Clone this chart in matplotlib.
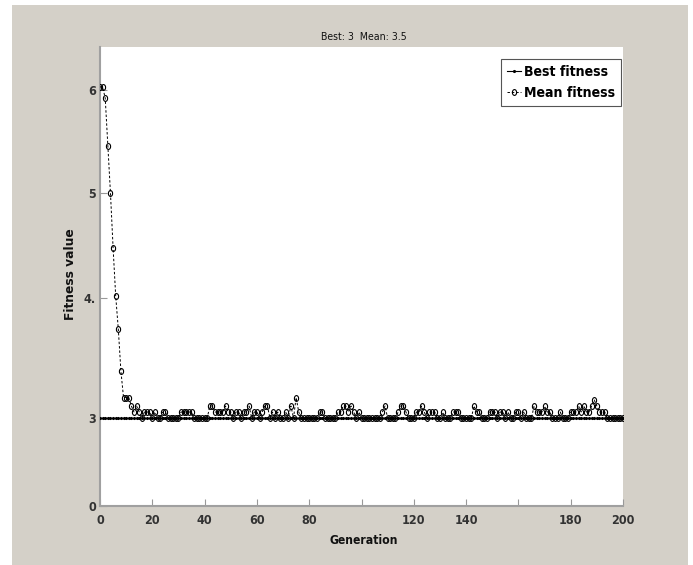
import numpy as np
import matplotlib
matplotlib.use("Agg")
import matplotlib.pyplot as plt
from matplotlib.patches import Rectangle
from matplotlib.markers import MarkerStyle
from matplotlib.transforms import Affine2D
from matplotlib import font_manager as fm

# ---------------- data ----------------
generations = list(range(0, 201))
best_fitness = [3.0] * 201
mean_fitness = (
    [6.03, 6.03, 5.92, 5.46, 5.0, 4.48, 4.02, 3.74, 3.39, 3.17,
     3.17, 3.17, 3.1, 3.05, 3.1, 3.05, 3.0, 3.05, 3.05, 3.05,
     3.0, 3.05, 3.0, 3.0, 3.05, 3.05, 3.0, 3.0, 3.0, 3.0,
     3.0, 3.05, 3.05, 3.05, 3.05, 3.05, 3.0, 3.0, 3.0, 3.0,
     3.0, 3.0, 3.1, 3.1, 3.05, 3.05, 3.05, 3.05, 3.1, 3.05,
     3.05, 3.0, 3.05, 3.05, 3.0, 3.05, 3.05, 3.1, 3.0, 3.05,
     3.05, 3.0, 3.05, 3.1, 3.1, 3.0, 3.05, 3.0, 3.05, 3.0,
     3.0, 3.05, 3.0, 3.1, 3.0, 3.17, 3.05, 3.0, 3.0, 3.0,
     3.0, 3.0, 3.0, 3.0, 3.05, 3.05, 3.0, 3.0, 3.0, 3.0,
     3.0, 3.05, 3.05, 3.1, 3.1, 3.05, 3.1, 3.05, 3.0, 3.05,
     3.0, 3.0, 3.0, 3.0, 3.0, 3.0, 3.0, 3.0, 3.05, 3.1,
     3.0, 3.0, 3.0, 3.0, 3.05, 3.1, 3.1, 3.05, 3.0, 3.0,
     3.0, 3.05, 3.05, 3.1, 3.05, 3.0, 3.05, 3.05, 3.05, 3.0,
     3.0, 3.05, 3.0, 3.0, 3.0, 3.05, 3.05, 3.05, 3.0, 3.0,
     3.0, 3.0, 3.0, 3.1, 3.05, 3.05, 3.0, 3.0, 3.0, 3.05,
     3.05, 3.05, 3.0, 3.05, 3.05, 3.0, 3.05, 3.0, 3.0, 3.05,
     3.05, 3.0, 3.05, 3.0, 3.0, 3.0, 3.1, 3.05, 3.05, 3.05,
     3.1, 3.05, 3.05, 3.0, 3.0, 3.0, 3.05, 3.0, 3.0, 3.0,
     3.05, 3.05, 3.05, 3.1, 3.05, 3.1, 3.05, 3.05, 3.1, 3.15,
     3.1, 3.05, 3.05, 3.05, 3.0, 3.0, 3.0, 3.0, 3.0, 3.0,
     3.0]
)
x_ticks = list(range(0, 201, 20))
x_tick_labels = ["0", "20", "40", "60", "80", "", "120", "140", "", "180", "200"]
y_ticks = [0, 3, 4, 5, 6]
y_tick_labels = ["0", "3", "4.", "5", "6"]
title_text = "Best: 3  Mean: 3.5"

# non-uniform vertical scale as in the reference picture
scale_vals = [0, 3, 4, 5, 6, 7]
scale_pos = [0, 88, 208, 313, 416, 519]


def fwd(y):
    return np.interp(y, scale_vals, scale_pos)


def inv(p):
    return np.interp(p, scale_pos, scale_vals)


# pick a condensed face if one is available
def pick_narrow():
    names = {f.name for f in fm.fontManager.ttflist}
    if "Liberation Sans Narrow" in names:
        return dict(family="Liberation Sans Narrow"), 1.0
    for f in fm.fontManager.ttflist:
        if f.name == "DejaVu Sans" and "ondensed" in f.fname:
            return dict(family="DejaVu Sans", stretch="condensed"), 0.92
    return dict(family="Liberation Sans"), 0.85


NARROW, SCALE = pick_narrow()

W, H = 693, 565
fig = plt.figure(figsize=(W / 100, H / 100), dpi=100, facecolor="white")
fig.patches.append(Rectangle((12 / W, 0), 676 / W, 560 / H, transform=fig.transFigure,
                             facecolor="#d4d0c8", edgecolor="none", zorder=-10))

ax = fig.add_axes([100 / W, (H - 506) / H, 523 / W, 459 / H])
ax.set_facecolor("white")
ax.set_yscale("function", functions=(fwd, inv))

ell = MarkerStyle("o", transform=Affine2D().scale(0.72, 1.0))

ax.plot(generations, best_fitness, color="black", linewidth=0.8, marker=".",
        markersize=2.5, label="Best fitness", zorder=3)
ax.plot(generations, mean_fitness, color="black", linewidth=0.7, linestyle=(0, (2.5, 2)),
        marker=ell, markersize=4.2, markerfacecolor="none", markeredgewidth=0.8,
        label="Mean fitness", zorder=4)

ax.set_xlim(0, 200)
ax.set_ylim(0, 6 + 43 / 103)
ax.set_xticks(x_ticks)
ax.set_xticklabels(x_tick_labels)
ax.set_yticks(y_ticks)
ax.set_yticklabels(y_tick_labels)
ax.minorticks_off()

tick_fp = fm.FontProperties(size=9.8 * SCALE, weight="bold", **NARROW)
for lab in ax.get_xticklabels() + ax.get_yticklabels():
    lab.set_fontproperties(tick_fp)
    lab.set_color("#333333")

ax.tick_params(axis="both", direction="in", length=5, width=0.8, color="#999999")
ax.tick_params(axis="x", pad=6)
ax.tick_params(axis="y", pad=3)

for side in ("top", "right"):
    ax.spines[side].set_visible(False)
for side in ("left", "bottom"):
    ax.spines[side].set_color("#a0a0a0")
    ax.spines[side].set_linewidth(1.5)

fig.text(364 / W, 1 - 37 / H, title_text, ha="center", va="center",
         fontproperties=fm.FontProperties(size=8.2 * SCALE, **NARROW), color="#111111")
fig.text(364 / W, 1 - 540 / H, "Generation", ha="center", va="center",
         fontproperties=fm.FontProperties(size=9.5 * SCALE, weight="bold", **NARROW),
         color="#111111")
fig.text(71 / W, 1 - 274 / H, "Fitness value", ha="center", va="center",
         rotation=90, family="DejaVu Sans", fontsize=8.8, fontweight="bold", color="#111111")

leg = ax.legend(loc="upper right", bbox_to_anchor=(621 / W, 1 - 59 / H),
                bbox_transform=fig.transFigure, frameon=True, fancybox=False,
                framealpha=1, edgecolor="#555555", handlelength=1.0, handletextpad=0.15,
                borderpad=0.45, labelspacing=0.45, borderaxespad=0,
                prop=fm.FontProperties(size=11 * SCALE, weight="bold", **NARROW))
leg.get_frame().set_linewidth(0.8)

fig.savefig("out.png", dpi=100, facecolor=fig.get_facecolor())
